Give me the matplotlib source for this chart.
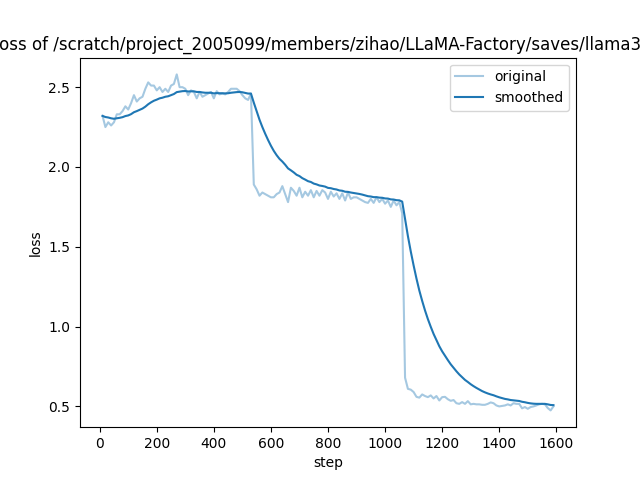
import matplotlib
matplotlib.use("Agg")
import matplotlib.pyplot as plt

# logging steps
steps = list(range(10, 1600, 10))

# raw loss
original = [
    2.32, 2.25, 2.28, 2.26, 2.28, 2.33, 2.33, 2.35, 2.38, 2.36,
    2.40, 2.45, 2.41, 2.43, 2.44, 2.49, 2.53, 2.51, 2.51, 2.48,
    2.50, 2.47, 2.49, 2.47, 2.51, 2.52, 2.58, 2.50, 2.50, 2.49,
    2.45, 2.48, 2.47, 2.43, 2.47, 2.44, 2.45, 2.46, 2.47, 2.43,
    2.475, 2.455, 2.46, 2.455, 2.47, 2.49, 2.49, 2.49, 2.475, 2.45,
    2.43, 2.42, 2.46,
    1.89, 1.86, 1.82, 1.84, 1.83, 1.82, 1.81, 1.81, 1.83, 1.84,
    1.88, 1.83, 1.78, 1.87, 1.85, 1.82, 1.87, 1.81, 1.845, 1.82,
    1.855, 1.81, 1.85, 1.82, 1.855, 1.84, 1.80, 1.845, 1.815, 1.835,
    1.80, 1.835, 1.79, 1.84, 1.80, 1.81, 1.81, 1.80, 1.79, 1.78,
    1.775, 1.80, 1.775, 1.81, 1.78, 1.80, 1.77, 1.79, 1.75, 1.79,
    1.76, 1.78, 1.71,
    0.68, 0.61, 0.605, 0.59, 0.56, 0.555, 0.575, 0.565, 0.558, 0.569,
    0.55, 0.565, 0.537, 0.558, 0.56, 0.545, 0.535, 0.54, 0.52, 0.516,
    0.527, 0.516, 0.533, 0.513, 0.516, 0.513, 0.513, 0.51, 0.51, 0.516,
    0.525, 0.52, 0.506, 0.50, 0.503, 0.506, 0.513, 0.506, 0.52, 0.516,
    0.516, 0.488, 0.496, 0.485, 0.496, 0.50, 0.506, 0.513, 0.516, 0.513,
    0.49, 0.475, 0.50,
]

# smoothed curve
smoothed = [
    2.320, 2.313, 2.310, 2.305, 2.302, 2.305, 2.308, 2.312, 2.319, 2.323,
    2.331, 2.343, 2.350, 2.358, 2.366, 2.378, 2.393, 2.405, 2.415, 2.422,
    2.430, 2.434, 2.440, 2.443, 2.450, 2.457, 2.469, 2.472, 2.475, 2.476,
    2.473, 2.474, 2.474, 2.470, 2.470, 2.467, 2.465, 2.465, 2.465, 2.461,
    2.463, 2.462, 2.462, 2.461, 2.462, 2.465, 2.467, 2.469, 2.470, 2.468,
    2.464, 2.460, 2.460,
    2.403, 2.349, 2.296, 2.250, 2.208, 2.169, 2.133, 2.101, 2.074, 2.051,
    2.034, 2.014, 1.991, 1.979, 1.966, 1.951, 1.943, 1.930, 1.921, 1.911,
    1.906, 1.896, 1.891, 1.884, 1.881, 1.877, 1.869, 1.867, 1.862, 1.859,
    1.853, 1.851, 1.845, 1.844, 1.840, 1.837, 1.834, 1.831, 1.827, 1.822,
    1.817, 1.815, 1.811, 1.811, 1.808, 1.807, 1.803, 1.802, 1.797, 1.796,
    1.792, 1.791, 1.783,
    1.673, 1.567, 1.471, 1.383, 1.301, 1.226, 1.161, 1.101, 1.047, 0.999,
    0.954, 0.915, 0.877, 0.845, 0.817, 0.790, 0.764, 0.742, 0.720, 0.700,
    0.683, 0.666, 0.653, 0.639, 0.627, 0.616, 0.606, 0.596, 0.588, 0.581,
    0.575, 0.570, 0.563, 0.557, 0.552, 0.547, 0.544, 0.540, 0.538, 0.536,
    0.534, 0.529, 0.526, 0.522, 0.519, 0.517, 0.516, 0.516, 0.516, 0.516,
    0.513, 0.509, 0.508,
]

title = "training loss of /scratch/project_2005099/members/zihao/LLaMA-Factory/saves/llama3-8b/lora/sft"

plt.figure(figsize=(6.4, 4.8), dpi=100)
plt.plot(steps, original, color="#1f77b4", alpha=0.4, label="original")
plt.plot(steps, smoothed, color="#1f77b4", label="smoothed")
plt.title(title)
plt.xlabel("step")
plt.ylabel("loss")
plt.legend()
plt.savefig("out.png", dpi=100)
